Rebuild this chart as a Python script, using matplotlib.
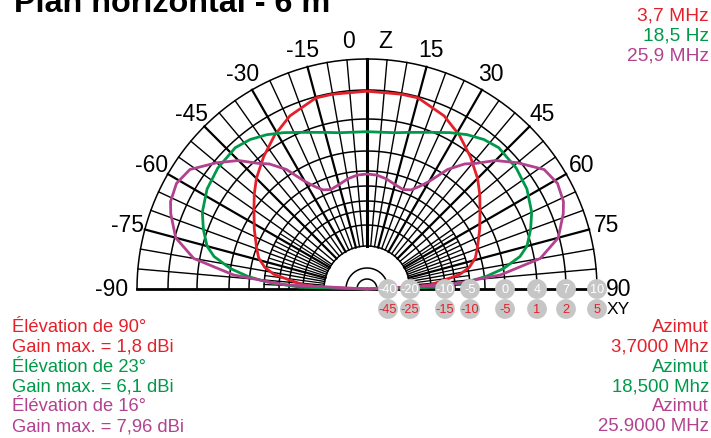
import numpy as np
import matplotlib
matplotlib.use("Agg")
import matplotlib.pyplot as plt
from matplotlib.patches import Circle

plt.rcParams['font.family'] = ['Liberation Sans', 'DejaVu Sans']

# colours
RED = '#e4202a'
GREEN = '#00994a'
PURPLE = '#b2428e'

# patterns: angle from zenith (deg, one half, mirrored) and normalised radius
red_theta = [0, 10, 15, 24, 31, 38, 45, 50, 55, 62, 69, 74, 78, 81, 83, 86, 88, 90]
red_r = [0.86, 0.86, 0.86, 0.824, 0.78, 0.73, 0.68, 0.64, 0.60, 0.555, 0.515, 0.49,
         0.455, 0.41, 0.35, 0.28, 0.20, 0.0]

green_theta = [0, 10, 15, 23, 28, 33, 38, 43, 51, 58, 65, 70, 75, 78, 81.5, 84, 86, 88.5, 90]
green_r = [0.684, 0.69, 0.705, 0.74, 0.77, 0.80, 0.825, 0.84, 0.835, 0.82, 0.79, 0.757,
           0.72, 0.68, 0.60, 0.52, 0.435, 0.29, 0.0]

purple_theta = [0, 5, 10, 15, 20, 24, 27, 30, 34, 38, 41, 45, 50, 56, 61, 66, 69, 75,
                80, 84, 87, 90]
purple_r = [0.50, 0.497, 0.486, 0.47, 0.46, 0.472, 0.50, 0.54, 0.627, 0.69, 0.724, 0.79,
            0.854, 0.929, 0.947, 0.935, 0.914, 0.861, 0.765, 0.583, 0.363, 0.0]

# dB scale along the baseline
scale_db = ['-40', '-20', '-10', '-5', '0', '4', '7', '10']
scale_db2 = ['-45', '-25', '-15', '-10', '-5', '1', '2', '5']
scale_r = [21 / 230, 43 / 230, 78 / 230, 103 / 230, 138 / 230, 170 / 230, 199 / 230, 1.0]
extra_rings = [118 / 230, 88 / 230, 64 / 230]
inner_arcs = [10 / 230, 21 / 230]

angle_labels = [-75, -60, -45, -30, -15, 15, 30, 45, 60, 75]

left_lines = ['Élévation de 90°', 'Gain max. = 1,8 dBi',
              'Élévation de 23°', 'Gain max. = 6,1 dBi',
              'Élévation de 16°', 'Gain max. = 7,96 dBi']
right_lines = ['Azimut', '3,7000 Mhz', 'Azimut', '18,500 Mhz', 'Azimut', '25.9000 MHz']
legend_lines = ['3,7 MHz', '18,5 Hz', '25,9 MHz']
line_colors = [RED, RED, GREEN, GREEN, PURPLE, PURPLE]

W, H = 711, 439
CX, CY, R = 367, 290, 230


def xy(theta_deg, r):
    t = np.radians(np.asarray(theta_deg, dtype=float))
    r = np.asarray(r, dtype=float)
    return r * np.sin(t), r * np.cos(t)


def full(theta, r):
    # mirror the half pattern to get -90..90
    th = np.concatenate([-np.array(theta[::-1]), np.array(theta[1:])])
    rr = np.concatenate([np.array(r[::-1]), np.array(r[1:])])
    return th, rr


def ftext(px, py, s, **kw):
    plt.gcf().text(px / W, 1 - py / H, s, **kw)


def draw_grid(ax):
    r0 = scale_r[1]
    arc = np.linspace(-90, 90, 361)
    for r in scale_r[1:] + extra_rings + inner_arcs:
        x, y = xy(arc, np.full_like(arc, r))
        ax.plot(x, y, color='black', lw=1.1, zorder=1)
    for a in range(-85, 90, 5):
        lw = 1.6 if a % 15 == 0 else 1.0
        if a == 0:
            lw = 2.2
        x, y = xy([a, a], [r0, 1.0])
        ax.plot(x, y, color='black', lw=lw, zorder=1)
    # denser spokes close to the horizon, inner part only
    for a in np.arange(57.5, 90, 2.5):
        if a % 5 == 0:
            continue
        for s in (-1, 1):
            x, y = xy([s * a, s * a], [r0, scale_r[3]])
            ax.plot(x, y, color='black', lw=0.9, zorder=1)
    ax.plot([-1.0, 1.0], [0, 0], color='black', lw=2.0, zorder=2)


def main():
    fig = plt.figure(figsize=(W / 100, H / 100), dpi=100)
    ax = fig.add_axes([0, 0, 1, 1])
    ax.set_xlim(-CX / R, (W - CX) / R)
    ax.set_ylim(-(H - CY) / R, CY / R)
    ax.axis('off')

    draw_grid(ax)

    for th, rr, c in [(red_theta, red_r, RED), (green_theta, green_r, GREEN),
                      (purple_theta, purple_r, PURPLE)]:
        t, r = full(th, rr)
        x, y = xy(t, r)
        ax.plot(x, y, color=c, lw=2.0, zorder=4, solid_capstyle='round')

    # angle labels
    for a in angle_labels:
        x, y = xy(a, 1.08)
        ax.text(x, y, str(a), fontsize=16.5, ha='center', va='center')
    ax.text(-0.08, 1.08, '0', fontsize=16.5, ha='center', va='center')
    ax.text(0.08, 1.08, 'Z', fontsize=16.5, ha='center', va='center')
    ax.text(-1.04, 0, '-90', fontsize=16.5, ha='right', va='center')
    ax.text(1.04, 0, '90', fontsize=16.5, ha='left', va='center')
    ax.text(1.04, -0.085, 'XY', fontsize=12.5, ha='left', va='center')

    # scale circles
    for r, lab, lab2 in zip(scale_r, scale_db, scale_db2):
        for yy, s, col in [(0, lab, 'white'), (-0.087, lab2, RED)]:
            ax.add_patch(Circle((r, yy), 0.043, facecolor='#c6c6c6', edgecolor='none', zorder=5))
            ax.text(r, yy, s, fontsize=9.2, color=col, ha='center', va='center',
                    zorder=6)

    ftext(14, 12, 'Plan horizontal - 6 m', fontsize=23.3, fontweight='bold',
          va='baseline', ha='left')

    for i, (s, c) in enumerate(zip(legend_lines, [RED, GREEN, PURPLE])):
        ftext(709, 16 + 20 * i, s, fontsize=13.8, color=c, ha='right', va='center')

    for i, (s, c) in enumerate(zip(left_lines, line_colors)):
        ftext(12, 327 + 20 * i, s, fontsize=13.2, color=c, ha='left', va='center')
    for i, (s, c) in enumerate(zip(right_lines, line_colors)):
        ftext(709, 327 + 20 * i, s, fontsize=13.4, color=c, ha='right', va='center')

    fig.savefig('out.png', dpi=100)


if __name__ == "__main__":
    main()
